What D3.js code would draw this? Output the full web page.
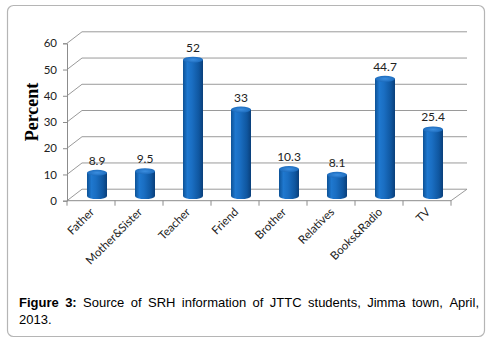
<!DOCTYPE html>
<html lang="en">
<head>
<meta charset="UTF-8">
<title>Source of SRH information</title>
<script src="https://cdn.jsdelivr.net/npm/d3@7"></script>
<style>
    body{ margin:0px; background:white; }
    text{ font-family: Lato, "Liberation Sans", sans-serif; }
    text.cap{ font-family: "Liberation Sans", Arial, sans-serif; }
</style>
</head>
<body>
<svg id="chart"></svg>
<script>
    // donnees
    const categories = ["Father","Mother&Sister","Teacher","Friend","Brother","Relatives","Books&Radio","TV"];
    const values = [8.9, 9.5, 52, 33, 10.3, 8.1, 44.7, 25.4];
    const labels = ["8.9","9.5","52","33","10.3","8.1","44.7","25.4"];
    const yTicks = [0,10,20,30,40,50,60];

    const w = 495, h = 346;
    const svg = d3.select('#chart').attr('width',w).attr('height',h);

    // cadre
    svg.append('rect').attr('x',7.5).attr('y',5.5).attr('width',477).attr('height',331)
        .attr('rx',6).attr('fill','white').attr('stroke','#b5b5b5').attr('stroke-width',1.2);

    // profondeur 3d
    const dx = 15, dy = -11.5;
    const x = d3.scaleBand().domain(categories).range([67,451]).paddingInner(0).paddingOuter(0);
    const y = d3.scaleLinear().domain([0,60]).range([200.7,43.3]);

    const grid = svg.append('g');
    // murs : lignes horizontales du fond + diagonales du mur gauche
    yTicks.forEach(t => {
        grid.append('line').attr('x1',67+dx).attr('x2',451+dx+1).attr('y1',y(t)+dy).attr('y2',y(t)+dy)
            .attr('stroke','#9a9a9a').attr('stroke-width',1);
        grid.append('line').attr('x1',67).attr('x2',67+dx).attr('y1',y(t)).attr('y2',y(t)+dy)
            .attr('stroke','#9a9a9a').attr('stroke-width',1);
    });
    // sol
    grid.append('line').attr('x1',451).attr('y1',y(0)).attr('x2',451+dx+1).attr('y2',y(0)+dy)
        .attr('stroke','#9a9a9a');
    grid.append('line').attr('x1',67).attr('y1',y(0)).attr('x2',451).attr('y2',y(0))
        .attr('stroke','#8c8c8c');

    // axe y
    const yAxis = svg.append('g').attr('transform','translate(67,0)')
        .call(d3.axisLeft(y).tickValues(yTicks).tickSize(4).tickPadding(6));
    yAxis.select('.domain').attr('stroke','#8c8c8c');
    yAxis.selectAll('.tick line').attr('stroke','#8c8c8c');
    yAxis.selectAll('.tick text').attr('font-family','Lato, "Liberation Sans", sans-serif')
        .attr('font-size','11.5px').attr('fill','#222');

    // axe x
    const xAxis = svg.append('g').attr('transform','translate(0,'+y(0)+')')
        .call(d3.axisBottom(x).tickSize(0).tickFormat(''));
    xAxis.select('.domain').remove();
    const bounds = categories.map(c => x(c)).concat([x.range()[1]]);
    xAxis.selectAll('.bnd').data(bounds).join('line').attr('class','bnd')
        .attr('x1',d=>d).attr('x2',d=>d).attr('y1',0).attr('y2',5).attr('stroke','#8c8c8c');
    xAxis.selectAll('.lab').data(categories).join('text').attr('class','lab')
        .attr('transform',d=>'translate('+(x(d)+x.bandwidth()/2+4)+',12) rotate(-45)')
        .attr('text-anchor','end').attr('font-size','11.5px').attr('fill','#222')
        .text(d=>d);

    // barres cylindriques
    const defs = svg.append('defs');
    const grad = defs.append('linearGradient').attr('id','cyl').attr('x1','0%').attr('x2','100%');
    [['0%','#0d5296'],['22%','#1f78cf'],['45%','#1a6ec2'],['80%','#0f569f'],['100%','#0a3f7a']]
        .forEach(s => grad.append('stop').attr('offset',s[0]).attr('stop-color',s[1]));
    const gradTop = defs.append('radialGradient').attr('id','cylTop');
    [['0%','#3b8ee0'],['100%','#1d6cbd']]
        .forEach(s => gradTop.append('stop').attr('offset',s[0]).attr('stop-color',s[1]));

    const r = 10, ry = 3, t = 0.4;
    const data = categories.map((c,i) => ({c:c, v:values[i], l:labels[i]}));
    const bars = svg.append('g').selectAll('g').data(data).join('g')
        .attr('transform',d=>'translate('+(x(d.c)+x.bandwidth()/2+dx*t)+','+(dy*t)+')');
    bars.append('path')
        .attr('d',d=>{
            const yb = y(0), yt = y(d.v);
            return 'M'+(-r)+','+yt+' L'+(-r)+','+yb+' A'+r+','+ry+' 0 0 0 '+r+','+yb+' L'+r+','+yt+' Z';
        })
        .attr('fill','url(#cyl)');
    bars.append('ellipse').attr('cx',0).attr('cy',d=>y(d.v)).attr('rx',r).attr('ry',ry)
        .attr('fill','url(#cylTop)');
    bars.append('text').attr('x',0).attr('y',d=>y(d.v)-ry-5)
        .attr('text-anchor','middle').attr('font-size','12px').attr('fill','#222')
        .text(d=>d.l);

    // titre axe
    svg.append('text').attr('transform','translate(38,112) rotate(-90)')
        .attr('text-anchor','middle')
        .attr('font-weight','bold').attr('font-size','18px').attr('fill','#000')
        .style('font-family','"Liberation Serif", "Times New Roman", serif')
        .text('Percent');

    // legende de la figure, justifiee
    const cap = svg.append('g').attr('font-size','13px').attr('fill','#000');
    const words = [{t:'Figure',b:true},{t:'3:',b:true},{t:'Source'},{t:'of'},{t:'SRH'},{t:'information'},
        {t:'of'},{t:'JTTC'},{t:'students,'},{t:'Jimma'},{t:'town,'},{t:'April,'}];
    const left = 19, right = 479;
    const nodes = words.map(wd => cap.append('text').attr('class','cap').attr('y',306.5)
        .attr('font-weight',wd.b?'bold':'normal').text(wd.t));
    const widths = nodes.map(n => n.node().getComputedTextLength());
    const gap = (right-left-d3.sum(widths))/(words.length-1);
    let cx = left;
    nodes.forEach((n,i) => { n.attr('x',cx); cx += widths[i]+gap; });
    cap.append('text').attr('class','cap').attr('x',left).attr('y',324).text('2013.');
</script>
</body>
</html>
